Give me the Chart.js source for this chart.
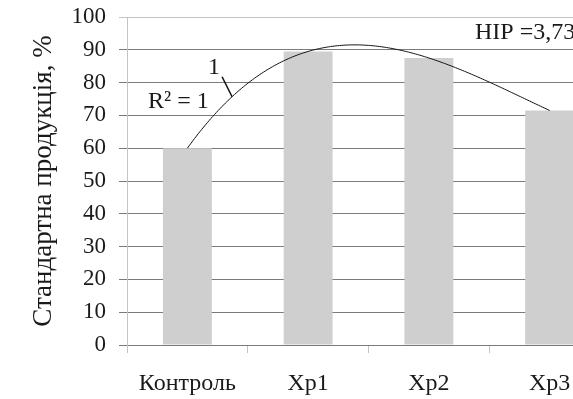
<!DOCTYPE html>
<html>
<head>
<meta charset="utf-8">
<script src="https://cdn.jsdelivr.net/npm/chart.js@4/dist/chart.umd.min.js"></script>
<style>
  html, body { margin: 0; padding: 0; background: #fff; overflow: hidden; }
  #wrap { width: 573px; height: 399px; overflow: hidden; position: relative; }
  canvas { display: block; }
</style>
</head>
<body>
<div id="wrap"><canvas id="c" width="620" height="399"></canvas></div>
<script>
// Standard produce share by variant
const categories = ['Контроль', 'Хр1', 'Хр2', 'Хр3'];
const standardShare = [60, 89.5, 87.5, 71.5];
const yTicks = [0, 10, 20, 30, 40, 50, 60, 70, 80, 90, 100];
const trendOrder = 3;
const trendLabel = '1';
const r2Label = 'R² = 1';
const lsdLabel = 'НІР =3,73';

const FONT = '"Liberation Serif", "Times New Roman", serif';
const TEXT = '#1a1a1a';
const GRID_DARK = '#7b7b7b';
const GRID_LIGHT = '#c4c4c4';

// Least-squares polynomial fit (Excel-style polynomial trendline), x = 1..n
function polyFit(ys, order) {
  const n = order + 1;
  const A = Array.from({length: n}, () => new Array(n + 1).fill(0));
  ys.forEach((y, i) => {
    const x = i + 1;
    for (let r = 0; r < n; r++) {
      for (let c = 0; c < n; c++) A[r][c] += Math.pow(x, r + c);
      A[r][n] += y * Math.pow(x, r);
    }
  });
  for (let p = 0; p < n; p++) {
    let m = p;
    for (let r = p + 1; r < n; r++) if (Math.abs(A[r][p]) > Math.abs(A[m][p])) m = r;
    [A[p], A[m]] = [A[m], A[p]];
    for (let r = 0; r < n; r++) {
      if (r === p) continue;
      const f = A[r][p] / A[p][p];
      for (let c = p; c <= n; c++) A[r][c] -= f * A[p][c];
    }
  }
  return A.map((row, i) => row[n] / row[i]);
}
const coef = polyFit(standardShare, trendOrder);
const trend = x => coef.reduce((s, a, k) => s + a * Math.pow(x, k), 0);

const trendPlugin = {
  id: 'trendline',
  afterDatasetsDraw(chart) {
    const {ctx, scales: {x: xs, y: ys}} = chart;
    ctx.save();
    // polynomial trendline across the category centres
    ctx.beginPath();
    const steps = 200;
    for (let s = 0; s <= steps; s++) {
      const t = (categories.length - 1) * s / steps;
      const px = xs.getPixelForValue(t);
      const py = ys.getPixelForValue(trend(t + 1));
      if (s === 0) ctx.moveTo(px, py); else ctx.lineTo(px, py);
    }
    ctx.strokeStyle = '#111';
    ctx.lineWidth = 1;
    ctx.stroke();

    // trendline label with leader
    const tAnchor = 0.37;
    const ax = xs.getPixelForValue(tAnchor);
    const ay = ys.getPixelForValue(trend(tAnchor + 1));
    ctx.beginPath();
    ctx.moveTo(ax, ay);
    ctx.lineTo(ax - 10, ay - 20);
    ctx.lineWidth = 1.5;
    ctx.stroke();

    ctx.fillStyle = TEXT;
    ctx.font = '24px ' + FONT;
    ctx.textBaseline = 'alphabetic';
    ctx.textAlign = 'center';
    ctx.fillText(trendLabel, ax - 18, ay - 23);
    ctx.textAlign = 'left';
    ctx.fillText(r2Label, 148, 108);
    ctx.fillText(lsdLabel, 475, 39);
    ctx.restore();
  }
};

new Chart(document.getElementById('c'), {
  type: 'bar',
  data: {
    labels: categories,
    datasets: [{
      data: standardShare,
      backgroundColor: '#cfcfcf',
      borderWidth: 0,
      categoryPercentage: 1,
      barPercentage: 0.405
    }]
  },
  options: {
    responsive: false,
    animation: false,
    events: [],
    layout: { padding: { top: 17, right: 10, left: 0, bottom: 0 } },
    plugins: { legend: { display: false }, tooltip: { enabled: false } },
    scales: {
      x: {
        offset: true,
        grid: {
          offset: true,
          drawOnChartArea: false,
          drawTicks: true,
          tickLength: 8,
          color: GRID_LIGHT
        },
        border: { display: true, color: GRID_DARK, width: 1 },
        ticks: {
          color: TEXT,
          font: { family: FONT, size: 24 },
          padding: 16,
          maxRotation: 0
        },
        afterFit: s => { s.height = 54; }
      },
      y: {
        min: 0,
        max: 100,
        afterBuildTicks: s => { s.ticks = yTicks.map(v => ({value: v})); },
        grid: {
          color: c => (c.tick && c.tick.value === 100) ? GRID_LIGHT : GRID_DARK,
          tickLength: 8,
          drawTicks: true
        },
        border: { display: true, color: GRID_LIGHT, width: 1 },
        ticks: {
          color: TEXT,
          font: { family: FONT, size: 23 },
          padding: 13
        },
        title: {
          display: true,
          text: 'Стандартна продукція, %',
          color: TEXT,
          font: { family: FONT, size: 27 },
          padding: { top: 28, bottom: 0 }
        },
        afterFit: s => { s.width = 127; s.paddingTop = 0; s.paddingBottom = 0; }
      }
    }
  },
  plugins: [trendPlugin]
});
</script>
</body>
</html>
